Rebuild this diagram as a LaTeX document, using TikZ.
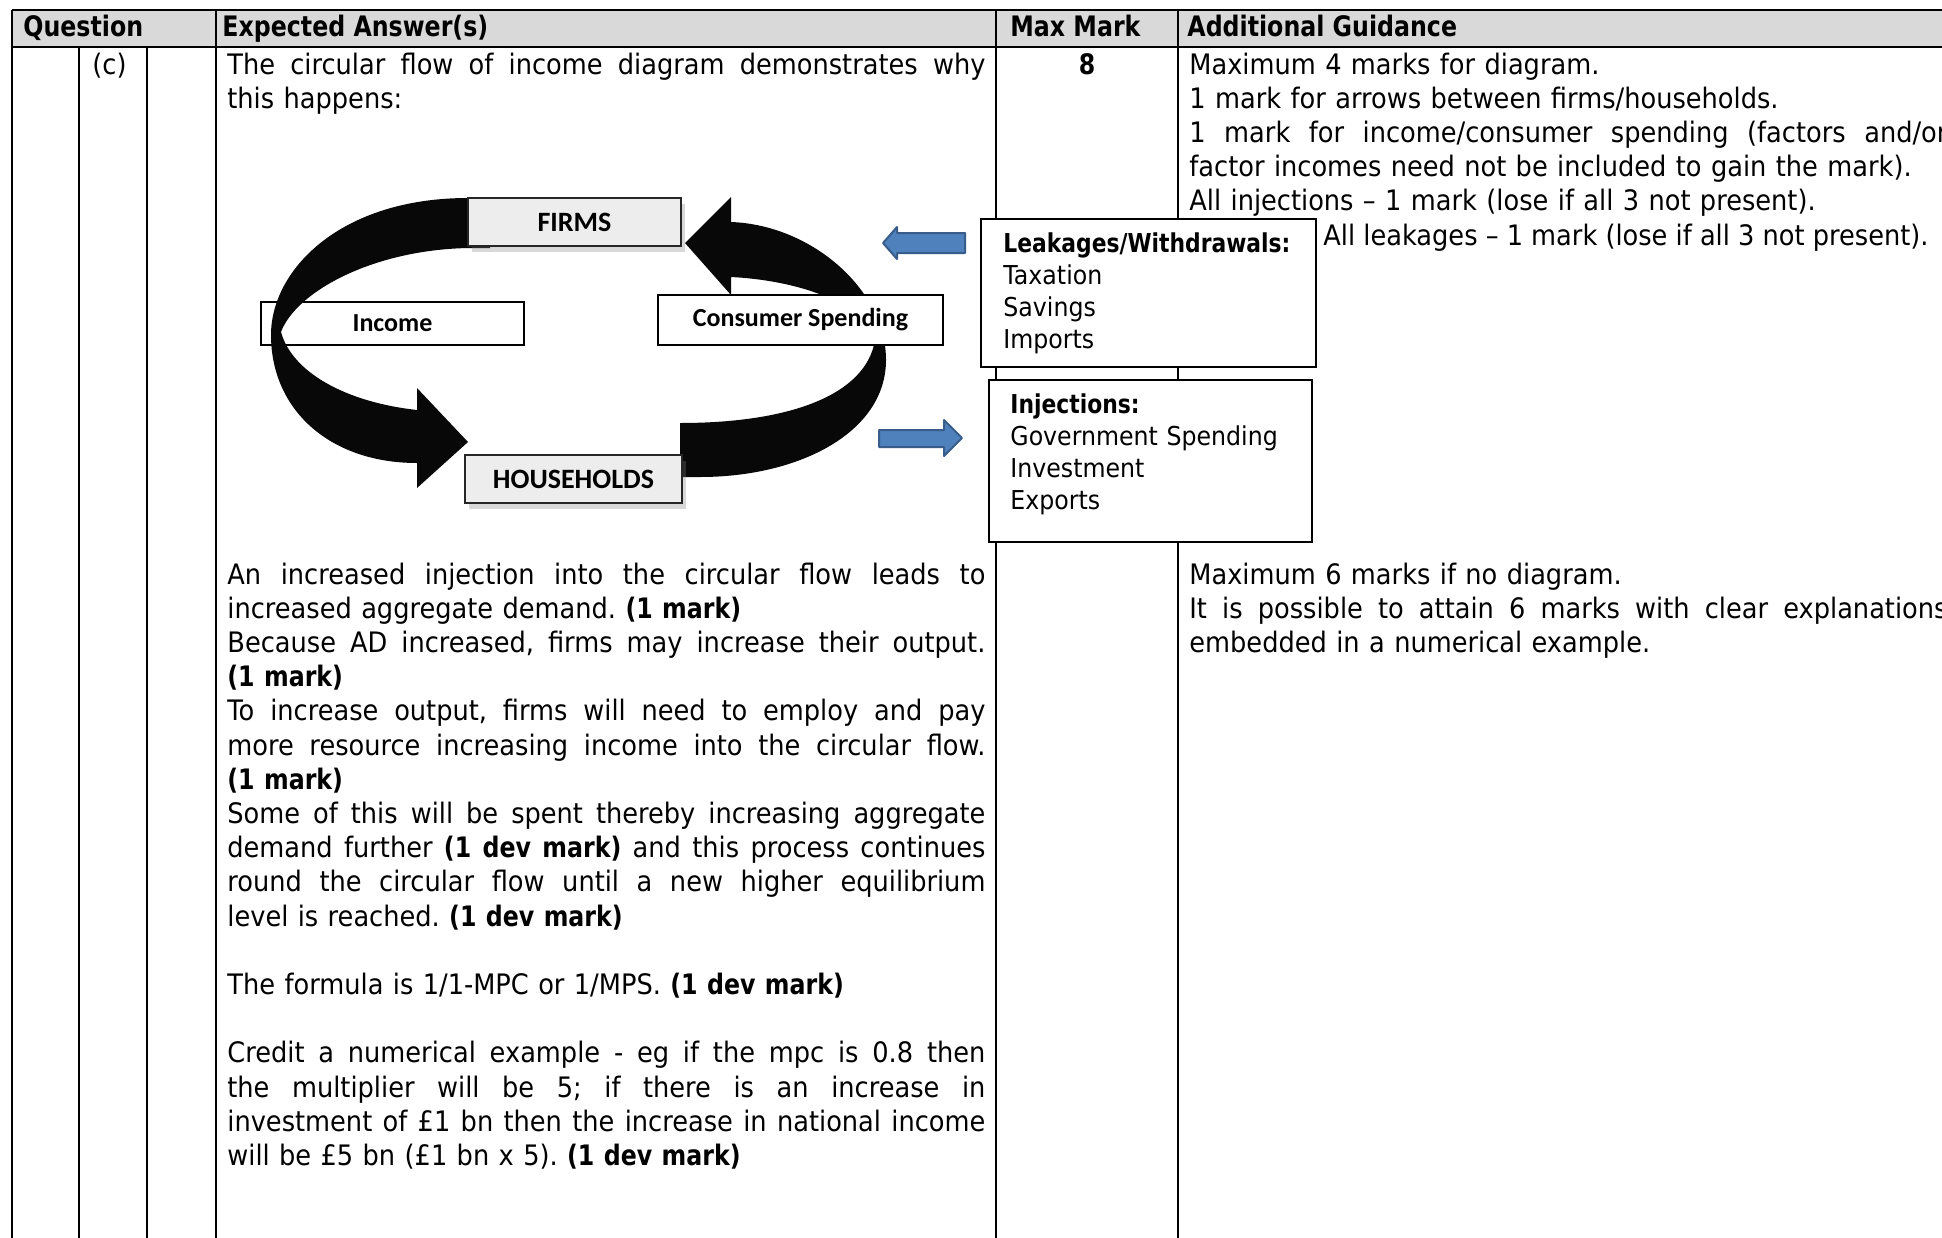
\documentclass[tikz,border=0pt]{standalone}
\usepackage{fontspec}
\setmainfont[FakeStretch=0.91,BoldFeatures={FakeStretch=0.84}]{DejaVu Sans}
\newfontfamily\diagfont{Carlito}
\usetikzlibrary{shadows}
\definecolor{hdrgray}{HTML}{D9D9D9}
\definecolor{bluefill}{HTML}{4F81BD}
\definecolor{blueedge}{HTML}{385D8A}
\definecolor{boxgray}{HTML}{EDEDED}
\newlength\colw \setlength\colw{379pt}
\newcommand\jl[1]{\leavevmode\hbox to\colw{\spaceskip=\fontdimen2\font plus 1fil\relax #1}}
\frenchspacing
\begin{document}
\begin{tikzpicture}[x=0.5pt,y=-0.5pt,
  body/.style={anchor=base west,inner sep=0pt,align=left,text width=\colw,
    font=\fontsize{14.1pt}{17.1pt}\selectfont},
  plain/.style={anchor=base west,inner sep=0pt,font=\fontsize{14.1pt}{17.1pt}\selectfont},
  hdrtext/.style={anchor=base west,inner sep=0pt,font=\fontsize{14.1pt}{17.1pt}\selectfont\bfseries},
  gridline/.style={line width=1pt},
  labelbox/.style={draw,line width=0.8pt,fill=white,inner sep=0pt,
    font=\diagfont\bfseries\fontsize{13pt}{15pt}\selectfont},
  agentbox/.style={draw=black!85,line width=1.2pt,fill=boxgray,inner sep=0pt,
    font=\diagfont\bfseries\fontsize{14pt}{16pt}\selectfont,
    drop shadow={opacity=0.3,shadow xshift=2pt,shadow yshift=-3pt}},
  flow/.style={fill=black!97},
  blockarrow/.style={fill=bluefill,draw=blueedge,line width=1pt,line join=round},
  textbox/.style={draw,line width=0.8pt,fill=white,inner sep=0pt},
  boxtext/.style={anchor=base west,inner sep=0pt,align=left,text width=150pt,
    font=\fontsize{13pt}{16pt}\selectfont}
]
\useasboundingbox (0,0) rectangle (1942,1237);
\clip (0,0) rectangle (1942,1237);
\fill[white] (0,0) rectangle (1942,1237);

% header band
\fill[hdrgray] (12,10) rectangle (1960,47);
\draw[gridline] (12,10) -- (1960,10);
\draw[gridline] (12,47) -- (1960,47);
\draw[gridline] (12,10) -- (12,1240);
\draw[gridline] (79,47) -- (79,1240);
\draw[gridline] (147,47) -- (147,1240);
\draw[gridline] (216,10) -- (216,1240);
\draw[gridline] (996,10) -- (996,1240);
\draw[gridline] (1178,10) -- (1178,1240);

% header texts
\node[hdrtext] (hq) at (23,36) {Question};
\node[hdrtext] (ha) at (222,36) {Expected Answer(s)};
\node[hdrtext] (hm) at (1010,36) {Max Mark};
\node[hdrtext] (hg) at (1187,36) {Additional Guidance};

% row
\node[plain] (part) at (92,74) {(c)};
\node[anchor=base,inner sep=0pt,font=\fontsize{14.1pt}{17.1pt}\selectfont\bfseries] (mark) at (1087,74) {8};

\node[body] (ans1) at (227,74) {\jl{The circular flow of income diagram demonstrates why}\\this happens:};

\node[body] (ans2) at (227,584) {%
\jl{An increased injection into the circular flow leads to}\\
increased aggregate demand. \textbf{(1 mark)}\\
\jl{Because AD increased, firms may increase their output.}\\
\textbf{(1 mark)}\\
\jl{To increase output, firms will need to employ and pay}\\
\jl{more resource increasing income into the circular flow.}\\
\textbf{(1 mark)}\\
\jl{Some of this will be spent thereby increasing aggregate}\\
\jl{demand further \textbf{(1 dev mark)} and this process continues}\\
\jl{round the circular flow until a new higher equilibrium}\\
level is reached. \textbf{(1 dev mark)}\\
~\\
The formula is 1/1-MPC or 1/MPS. \textbf{(1 dev mark)}\\
~\\
\jl{Credit a numerical example - eg if the mpc is 0.8 then}\\
\jl{the multiplier will be 5; if there is an increase in}\\
\jl{investment of £1 bn then the increase in national income}\\
will be £5 bn (£1 bn x 5). \textbf{(1 dev mark)}};

\node[body] (guide1) at (1189,74) {%
Maximum 4 marks for diagram.\\
1 mark for arrows between firms/households.\\
\jl{1 mark for income/consumer spending (factors and/or}\\
factor incomes need not be included to gain the mark).\\
All injections – 1 mark (lose if all 3 not present).};

\node[body] (guide2) at (1189,584) {%
Maximum 6 marks if no diagram.\\
\jl{It is possible to attain 6 marks with clear explanations}\\
embedded in a numerical example.};

% circular flow diagram
\node[labelbox,minimum width=131.5pt,minimum height=21.5pt] (income) at (392.5,323.5) {Income};

% left flow arrow (firms -> households)
\path[flow] (490,198) -- (468,198)
  .. controls (340,198) and (271,270) .. (271,335)
  .. controls (271,410) and (330,463) .. (417,463)
  -- (417,488) -- (468,442) -- (417,388) -- (417,410)
  .. controls (345,402) and (292,372) .. (281,332)
  .. controls (296,292) and (372,250) .. (468,248)
  -- (490,248) -- cycle;

% right flow arrow (households -> firms)
\path[flow] (700,477) -- (680,477)
  -- (680,423)
  .. controls (790,423) and (866,395) .. (875,340)
  .. controls (862,300) and (792,280) .. (731,277)
  -- (731,295) -- (685,243) -- (731,197) -- (731,222)
  .. controls (812,225) and (886,290) .. (886,360)
  .. controls (886,432) and (800,477) .. (700,477) -- cycle;

\node[labelbox,minimum width=142.5pt,minimum height=25pt] (spend) at (800.5,320) {Consumer Spending};
\node[agentbox,minimum width=106.5pt,minimum height=24pt] (firms) at (574.5,222) {FIRMS};
\node[agentbox,minimum width=108.5pt,minimum height=24pt] (house) at (573.5,479) {HOUSEHOLDS};

% blue block arrows
\path[blockarrow] (883,243) -- (897,227) -- (897,233) -- (965,233) -- (965,253) -- (897,253) -- (897,259) -- cycle;
\path[blockarrow] (962,438) -- (944,420) -- (944,430) -- (879,430) -- (879,447) -- (944,447) -- (944,456) -- cycle;

% leakages / injections boxes
\node[textbox,minimum width=167.5pt,minimum height=74pt] (leakbox) at (1148.5,293) {};
\node[boxtext] (leaktext) at (1003,252) {\textbf{Leakages/Withdrawals:}\\Taxation\\Savings\\Imports};
\node[textbox,minimum width=161.5pt,minimum height=81pt] (injbox) at (1150.5,461) {};
\node[boxtext] (injtext) at (1010,413) {\textbf{Injections:}\\Government Spending\\Investment\\Exports};

\node[plain] (guide3) at (1323,245) {All leakages – 1 mark (lose if all 3 not present).};
\end{tikzpicture}
\end{document}
